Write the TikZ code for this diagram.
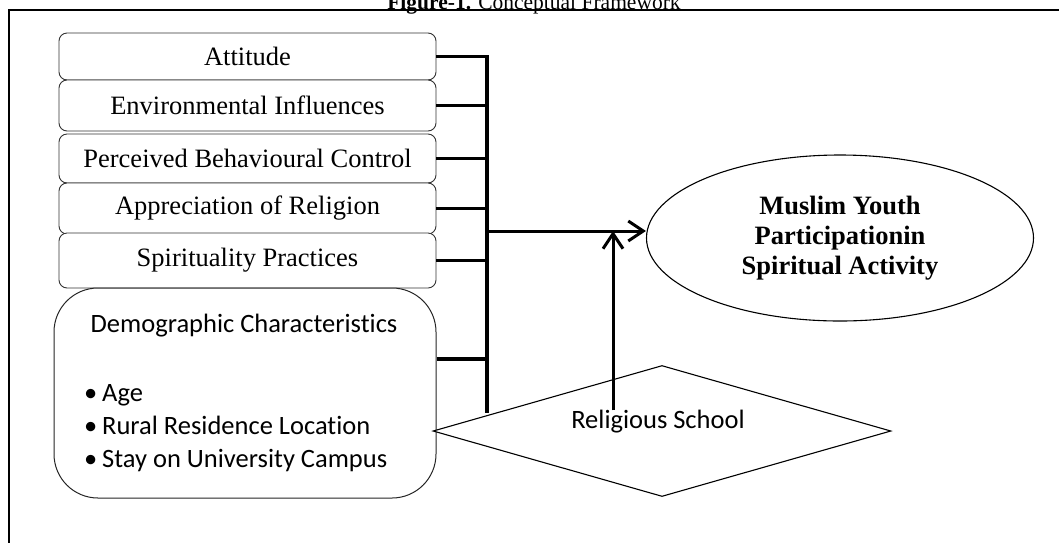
\documentclass[tikz,border=0pt]{standalone}
\usepackage{fontspec}
\setmainfont{Liberation Serif}
\newfontfamily\calfont[Ligatures=NoCommon]{Carlito}
\usetikzlibrary{arrows.meta,positioning,shapes.geometric}
\tikzset{
	factbox/.style={draw=black!80, line width=0.9pt, rounded corners=8pt,
		fill=white, minimum width=377pt, inner sep=0pt, align=center,
		font=\fontsize{26.5}{30}\selectfont},
	dembox/.style={draw=black!85, line width=1pt, rounded corners=44pt,
		fill=white, minimum width=382pt, minimum height=210pt},
	goalell/.style={ellipse, draw=black, line width=1.1pt, fill=white,
		minimum width=387pt, minimum height=166pt, inner sep=0pt,
		align=center, font=\fontsize{26.5}{30}\selectfont\bfseries},
	moddia/.style={diamond, draw=black, line width=1.1pt, fill=white,
		minimum width=458pt, minimum height=131pt, inner sep=0pt},
	calib/.style={inner sep=0pt, font=\calfont\fontsize{26.5}{33}\selectfont},
	bus/.style={line width=3.3pt, draw=black},
	marr/.style={-{Straight Barb[length=15pt,width=20pt]}, line width=3pt,
		draw=black},
}

\begin{document}
\begin{tikzpicture}[x=1pt,y=-1pt]
	\useasboundingbox (0,0) rectangle (1059,542);

	% Title and frame
	\node[anchor=base,inner sep=0pt,font=\fontsize{21.5}{24}\selectfont] at (534,9.5) (title)
		{\textbf{Figure-1.} Conceptual Framework};
	\draw[line width=2pt] (8.5,10) rectangle (1080,570);

	% Factor boxes (left column)
	\node[factbox,minimum height=47pt] at (247.5,56.5)  (att)  {Attitude};
	\node[factbox,minimum height=51pt] at (247.5,105.5) (env)  {Environmental Influences};
	\node[factbox,minimum height=49pt] at (247.5,158.5) (pbc)  {Perceived Behavioural Control};
	\node[factbox,minimum height=51pt] at (247.5,208.5) (appr) {Appreciation of Religion};
	\node[factbox,minimum height=55pt] at (247.5,260.5) (spir) {Spirituality Practices};

	% Demographic box
	\node[dembox] at (245,393) (demo) {};
	\node[calib] at (244,326) (demtitle) {Demographic Characteristics};
	\node[calib,align=left,anchor=west] at (84,428) (demlist)
		{\makebox[18pt][l]{•}Age\\
		 \makebox[18pt][l]{•}Rural Residence Location\\
		 \makebox[18pt][l]{•}Stay on University Campus};

	% Moderator and outcome
	\node[moddia] at (662,431) (relig) {};
	\node[calib] at (658,422) (rstext) {Religious School};
	\node[goalell] at (840,238) (goal) {Muslim Youth\\Participationin\\Spiritual Activity};

	% Bus
	\coordinate (busbot) at (487,413);
	\coordinate (join)   at (487,231);
	\coordinate (hit)    at (613,231);
	\draw[bus] (att.east) -| (busbot);
	\draw[bus] (env.east)  -- (env.east -| busbot);
	\draw[bus] (pbc.east)  -- (pbc.east -| busbot);
	\draw[bus] (appr.east) -- (appr.east -| busbot);
	\draw[bus] (spir.east) -- (spir.east -| busbot);
	\draw[bus] ([yshift=34pt]demo.east) -- ([yshift=34pt]demo.east -| busbot);

	% Arrows
	\draw[marr] (join) -- (join -| goal.west);
	\draw[marr] (rstext.north -| hit) -- (hit);
\end{tikzpicture}
\end{document}
